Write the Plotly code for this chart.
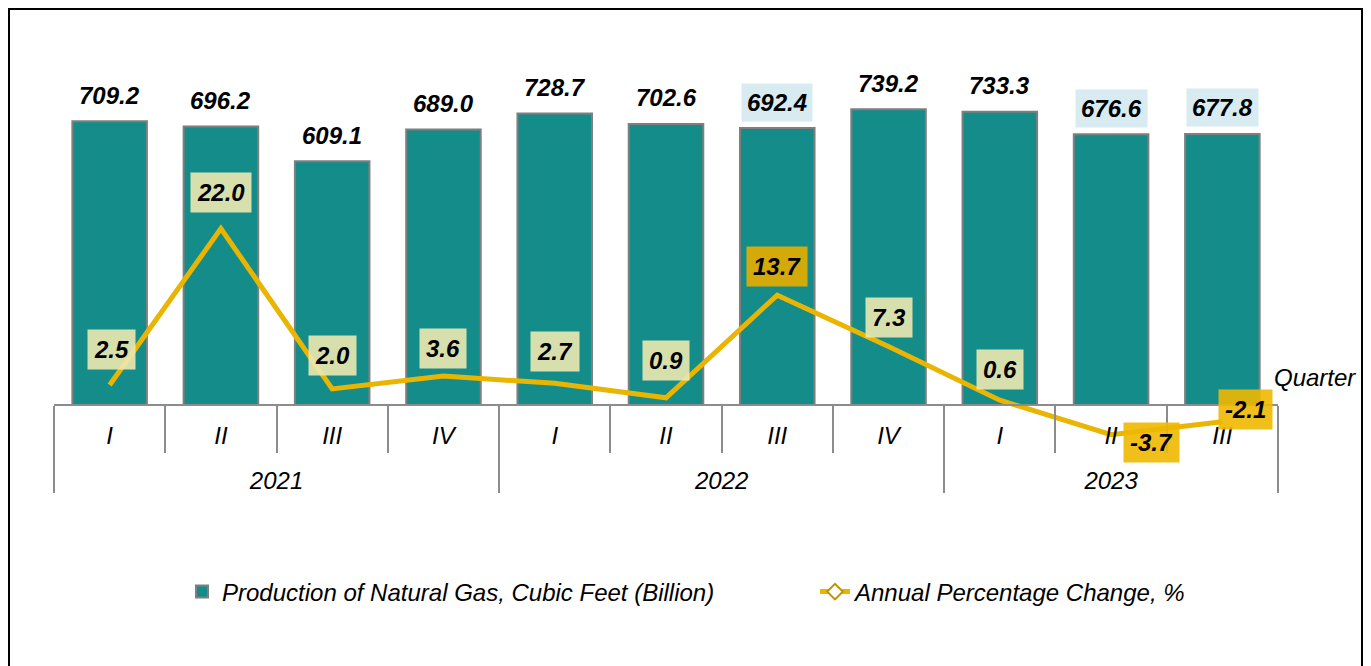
import plotly.graph_objects as go

# data
years = ["2021"] * 4 + ["2022"] * 4 + ["2023"] * 3
quarters = ["I", "II", "III", "IV", "I", "II", "III", "IV", "I", "II", "III"]
production = [709.2, 696.2, 609.1, 689.0, 728.7, 702.6, 692.4, 739.2, 733.3, 676.6, 677.8]
pct_change = [2.5, 22.0, 2.0, 3.6, 2.7, 0.9, 13.7, 7.3, 0.6, -3.7, -2.1]

# page body adds an 8px margin, so the figure is sized to the visible area
OFF = 8
W, H = 1371 - OFF, 666 - OFF
def fx(px):
    return (px - OFF) / W
def fy(py):
    return 1 - (py - OFF) / H

TEAL = "#148C8A"
GOLD = "#EAB500"
GREY = "#8C8C8C"
FONT = "Liberation Sans, Arial, sans-serif"
FS = 24

keys = [f"{y} {q}" for y, q in zip(years, quarters)]

# year groups for the second axis level
year_names, year_centers, bounds = [], [], [-0.5]
for i, y in enumerate(years):
    if y not in year_names:
        year_names.append(y)
    if i == len(years) - 1 or years[i + 1] != y:
        bounds.append(i + 0.5)
for k, y in enumerate(year_names):
    year_centers.append((bounds[k] + bounds[k + 1]) / 2)

fig = go.Figure()

fig.add_trace(go.Bar(
    x=keys, y=production,
    name="Production of Natural Gas, Cubic Feet (Billion)",
    marker=dict(color=TEAL, line=dict(color="#7F7F7F", width=2)),
    width=0.67, yaxis="y", legend="legend",
))

fig.add_trace(go.Scatter(
    x=keys, y=pct_change, mode="lines",
    line=dict(color=GOLD, width=5), yaxis="y2", showlegend=False,
))
# legend entry for the line (diamond marker); also carries the year axis
fig.add_trace(go.Scatter(
    x=[None], y=[None], mode="lines+markers", xaxis="x2", yaxis="y2",
    name="Annual Percentage Change, %", legend="legend2",
    line=dict(color=GOLD, width=5),
    marker=dict(symbol="diamond", size=12, color="white", line=dict(color="#C09000", width=2)),
))

annotations = []
bold = dict(family=FONT, size=FS, color="black", weight="bold", style="italic")
# bar value labels
bar_bg = ["rgba(0,0,0,0)"] * 11
for i in (6, 9, 10):
    bar_bg[i] = "#D7EBF1"
for i, v in enumerate(production):
    annotations.append(dict(
        x=keys[i], y=v, xref="x", yref="y", text=f"{v:.1f}", showarrow=False,
        yshift=26, bgcolor=bar_bg[i], borderpad=5, font=bold,
    ))

# line value labels
pale = "rgba(236,232,176,0.9)"
gold_box = "rgba(238,184,0,0.9)"
line_bg = [pale] * 11
line_bg[6] = "#D4AA0A"
line_bg[9] = gold_box
line_bg[10] = gold_box
xshift = [2, 0, 0, 0, 0, 0, 0, 0, 0, 40, 23]
yshift = [35, 36, 33, 28, 32, 37, 29, 29, 31, -8, 12]
for i, v in enumerate(pct_change):
    annotations.append(dict(
        x=keys[i], y=v, xref="x", yref="y2", text=f"{v:.1f}", showarrow=False,
        xshift=xshift[i], yshift=yshift[i], bgcolor=line_bg[i], borderpad=6, font=bold,
    ))

annotations.append(dict(
    x=fx(1315), y=fy(377), xref="paper", yref="paper", text="Quarter",
    xanchor="center", yanchor="middle",
    showarrow=False, font=dict(family=FONT, size=FS, color="black", style="italic"),
))

# plot area geometry in reference pixels: zero line at y=405
top_px, bot_px, zero_px = 45, 445, 405
y_lo = -(bot_px - zero_px) / 0.4
y_hi = (zero_px - top_px) / 0.4
y2_lo = -(bot_px - zero_px) / 8.02
y2_hi = (zero_px - top_px) / 8.02

tickfont = dict(family=FONT, size=FS, color="black", style="italic")
legfont = dict(family=FONT, size=FS, color="black", style="italic")
xdom = [fx(54), fx(1278)]

fig.update_layout(
    width=W, height=H,
    margin=dict(l=0, r=0, t=0, b=0),
    paper_bgcolor="white", plot_bgcolor="rgba(0,0,0,0)",
    font=dict(family=FONT, color="black"),
    xaxis=dict(
        type="category", domain=xdom, anchor="free", position=fy(zero_px),
        range=[-0.5, len(keys) - 0.5],
        tickmode="array", tickvals=keys, ticktext=quarters,
        showline=True, linecolor=GREY, linewidth=2,
        ticks="outside", ticklen=47, tickcolor=GREY, tickwidth=2, tickson="boundaries",
        ticklabelstandoff=9,
        tickfont=tickfont, showgrid=False, automargin=False,
    ),
    xaxis2=dict(
        overlaying="x", domain=xdom, anchor="free", position=fy(zero_px),
        type="linear", range=[-0.5, len(keys) - 0.5],
        tickmode="array", tickvals=year_centers, ticktext=year_names,
        ticks="", showline=False, showgrid=False, zeroline=False,
        minor=dict(tickmode="array", tickvals=bounds, ticks="outside", ticklen=87,
                   tickcolor=GREY, tickwidth=2, showgrid=False),
        ticklabelstandoff=59,
        tickfont=tickfont, automargin=False,
    ),
    yaxis=dict(domain=[fy(bot_px), fy(top_px)], range=[y_lo, y_hi], visible=False),
    yaxis2=dict(overlaying="y", range=[y2_lo, y2_hi], visible=False),
    showlegend=True,
    legend=dict(
        orientation="h", x=fx(182), xanchor="left", y=fy(592), yanchor="middle",
        font=legfont,
    ),
    legend2=dict(
        orientation="h", x=fx(815), xanchor="left", y=fy(592), yanchor="middle",
        font=legfont,
    ),
    annotations=annotations,
    shapes=[dict(type="rect", xref="paper", yref="paper",
                 x0=1 / W, x1=fx(1362), y0=-0.05, y1=1 - 1 / H,
                 line=dict(color="black", width=2))],
)

fig.write_html("out.html")
